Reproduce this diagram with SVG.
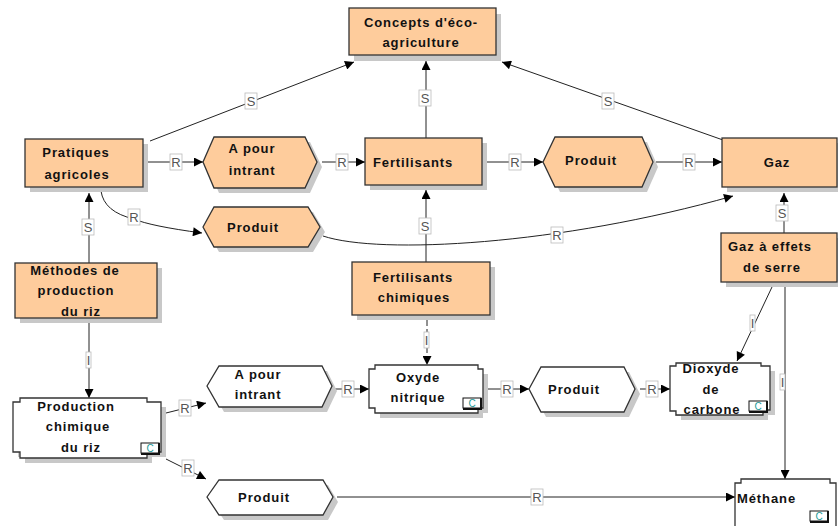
<svg xmlns="http://www.w3.org/2000/svg" width="838" height="526" viewBox="0 0 838 526">
  <style>
    .shadow { fill: #c8c8c8; stroke: none; }
    .box { fill: #fecc9c; stroke: #333; stroke-width: 1.3; }
    .wbox { fill: #ffffff; stroke: #333; stroke-width: 1.3; }
    .t { font-family: "Liberation Sans", Arial, sans-serif; font-weight: bold; font-size: 13px; letter-spacing: 0.9px; fill: #111; text-anchor: middle; }
    .tl { text-anchor: start; }
    .edge { fill: none; stroke: #222; stroke-width: 1; marker-end: url(#ah); }
    .dash { stroke-dasharray: 6 3; }
    .lb rect { fill: #fff; stroke: #bbb; stroke-width: 0.8; }
    .lb text { font-family: "Liberation Sans", Arial, sans-serif; font-size: 13px; fill: #555; text-anchor: middle; }
    .badge { fill: #fff; stroke: #111; stroke-width: 1; }
    .badgeedge { fill: none; stroke: #111; stroke-width: 2; }
    .bt { font-family: "Liberation Sans", Arial, sans-serif; font-size: 10px; fill: #1a9a9a; text-anchor: middle; }
  </style>
  <defs>
    <marker id="ah" viewBox="0 0 10 10" refX="10" refY="5" markerWidth="11" markerHeight="9" orient="auto" markerUnits="userSpaceOnUse">
      <path d="M0,0 L10,5 L0,10 Z" fill="#000"/>
    </marker>
  </defs>

  <!-- connectors -->
  <g id="connectors">
    <path class="edge" d="M150,141 L354,62"/>
    <path class="edge" d="M426,138 L426,61"/>
    <path class="edge" d="M723,140 L502,62"/>
    <path class="edge" d="M148,162 L203,162"/>
    <path class="edge" d="M322,162 L365,162"/>
    <path class="edge" d="M487,162 L543,162"/>
    <path class="edge" d="M656,162 L722,162"/>
    <path class="edge" d="M101,191 Q104,212 134,219 Q150,226 202,233"/>
    <path class="edge" d="M323,236 C380,255 560,245 733,196"/>
    <path class="edge" d="M89,263 L89,193"/>
    <path class="edge" d="M426,262 L426,190"/>
    <path class="edge" d="M784,233 L784,193"/>
    <path class="edge" d="M89,323 L89,398"/>
    <path class="edge dash" d="M427,320 L427,365"/>
    <path class="edge" d="M166,413 L206,403"/>
    <path class="edge" d="M332,389 L369,389"/>
    <path class="edge" d="M488,389 L529,389"/>
    <path class="edge" d="M640,389 L670,389"/>
    <path class="edge" d="M772,287 L737,361"/>
    <path class="edge" d="M785,287 L785,479"/>
    <path class="edge" d="M166,459 L206,479"/>
    <path class="edge" d="M337,497 L735,497"/>

    <!-- relation labels -->
    <g class="lb"><rect x="245" y="93" width="12" height="16"/><text x="251" y="106">S</text></g>
    <g class="lb"><rect x="419" y="90" width="12" height="16"/><text x="425" y="103">S</text></g>
    <g class="lb"><rect x="602" y="93" width="12" height="16"/><text x="608" y="106">S</text></g>
    <g class="lb"><rect x="170" y="154" width="12" height="16"/><text x="176" y="167">R</text></g>
    <g class="lb"><rect x="336" y="154" width="12" height="16"/><text x="342" y="167">R</text></g>
    <g class="lb"><rect x="509" y="154" width="12" height="16"/><text x="515" y="167">R</text></g>
    <g class="lb"><rect x="683" y="154" width="12" height="16"/><text x="689" y="167">R</text></g>
    <g class="lb"><rect x="128" y="209" width="12" height="16"/><text x="134" y="222">R</text></g>
    <g class="lb"><rect x="551" y="227" width="12" height="16"/><text x="557" y="240">R</text></g>
    <g class="lb"><rect x="82" y="219" width="12" height="16"/><text x="88" y="232">S</text></g>
    <g class="lb"><rect x="419" y="218" width="12" height="16"/><text x="425" y="231">S</text></g>
    <g class="lb"><rect x="776" y="205" width="12" height="16"/><text x="782" y="218">S</text></g>
    <g class="lb"><rect x="86" y="352" width="5" height="16"/><text x="88.5" y="365">I</text></g>
    <g class="lb"><rect x="424" y="332" width="5" height="16"/><text x="426.5" y="345">I</text></g>
    <g class="lb"><rect x="750" y="315" width="5" height="16"/><text x="752.5" y="328">I</text></g>
    <g class="lb"><rect x="780" y="374" width="5" height="16"/><text x="782.5" y="387">I</text></g>
    <g class="lb"><rect x="179" y="400" width="12" height="16"/><text x="185" y="413">R</text></g>
    <g class="lb"><rect x="342" y="381" width="12" height="16"/><text x="348" y="394">R</text></g>
    <g class="lb"><rect x="501" y="381" width="12" height="16"/><text x="507" y="394">R</text></g>
    <g class="lb"><rect x="646" y="381" width="12" height="16"/><text x="652" y="394">R</text></g>
    <g class="lb"><rect x="182" y="460" width="12" height="16"/><text x="188" y="473">R</text></g>
    <g class="lb"><rect x="531" y="489" width="12" height="16"/><text x="537" y="502">R</text></g>
  </g>

  <!-- orange nodes -->
  <g id="concepts">
    <rect class="shadow" x="354" y="14" width="147" height="47"/>
    <rect class="box" x="349" y="8" width="147" height="47"/>
    <text class="t" x="421" y="27">Concepts d'éco-</text>
    <text class="t" x="421" y="47">agriculture</text>
  </g>
  <g id="pratiques">
    <rect class="shadow" x="30" y="144" width="118" height="48"/>
    <rect class="box" x="25" y="139" width="118" height="48"/>
    <text class="t" x="76" y="157">Pratiques</text>
    <text class="t" x="77" y="179">agricoles</text>
  </g>
  <g id="apour1">
    <polygon class="shadow" points="208,167 219,142 310,142 322,167 310,193 219,193"/>
    <polygon class="box" points="203,162 214,137 305,137 317,162 305,188 214,188"/>
    <text class="t" x="252" y="153">A pour</text>
    <text class="t" x="252" y="175">intrant</text>
  </g>
  <g id="produit1">
    <polygon class="shadow" points="208,232 219,212 313,212 325,232 313,252 219,252"/>
    <polygon class="box" points="203,227 214,207 308,207 320,227 308,247 214,247"/>
    <text class="t" x="253" y="232">Produit</text>
  </g>
  <g id="fertilisants">
    <rect class="shadow" x="370" y="143" width="117" height="47"/>
    <rect class="box" x="365" y="138" width="117" height="47"/>
    <text class="t" x="413" y="167">Fertilisants</text>
  </g>
  <g id="produit2">
    <polygon class="shadow" points="548,167 560,142 647,142 658,167 647,192 560,192"/>
    <polygon class="box" points="543,162 555,137 642,137 653,162 642,187 555,187"/>
    <text class="t" x="591" y="165">Produit</text>
  </g>
  <g id="gaz">
    <rect class="shadow" x="727" y="143" width="116" height="49"/>
    <rect class="box" x="722" y="138" width="115" height="49"/>
    <text class="t" x="777" y="167">Gaz</text>
  </g>
  <g id="gazserre">
    <rect class="shadow" x="726" y="238" width="116" height="49"/>
    <rect class="box" x="721" y="233" width="116" height="49"/>
    <text class="t" x="770" y="251">Gaz à effets</text>
    <text class="t" x="772" y="272">de serre</text>
  </g>
  <g id="fertchim">
    <rect class="shadow" x="357" y="267" width="138" height="53"/>
    <rect class="box" x="352" y="262" width="138" height="53"/>
    <text class="t" x="413" y="282">Fertilisants</text>
    <text class="t" x="414" y="302">chimiques</text>
  </g>
  <g id="methodes">
    <rect class="shadow" x="20" y="268" width="142" height="55"/>
    <rect class="box" x="15" y="263" width="142" height="55"/>
    <text class="t" x="75" y="275">Méthodes de</text>
    <text class="t" x="76" y="295">production</text>
    <text class="t" x="81" y="316">du riz</text>
  </g>

  <!-- white nodes -->
  <g id="prodchim">
    <path class="shadow" d="M25,403 H152 V407 H166 V457 H152 V463 H25 V457 H18 V407 H25 Z"/>
    <path class="wbox" d="M20,398 H147 V402 H161 V452 H147 V458 H20 V452 H13 V402 H20 Z"/>
    <text class="t" x="76" y="411">Production</text>
    <text class="t" x="78" y="431">chimique</text>
    <text class="t" x="81" y="452">du riz</text>
    <rect class="badge" x="141" y="443" width="18" height="10"/>
    <path class="badgeedge" d="M159,443 V454 H141"/>
    <text class="bt" x="150" y="452">C</text>
  </g>
  <g id="apour2">
    <polygon class="shadow" points="212,391 224,371 327,371 337,391 327,412 224,412"/>
    <polygon class="wbox" points="207,386 219,366 322,366 332,386 322,407 219,407"/>
    <text class="t" x="258" y="379">A pour</text>
    <text class="t" x="258" y="399">intrant</text>
  </g>
  <g id="oxyde">
    <path class="shadow" d="M380,370 H483 V374 H488 V413 H483 V418 H380 V413 H374 V374 H380 Z"/>
    <path class="wbox" d="M375,365 H478 V369 H483 V408 H478 V413 H375 V408 H369 V369 H375 Z"/>
    <text class="t" x="418" y="382">Oxyde</text>
    <text class="t" x="418" y="402">nitrique</text>
    <rect class="badge" x="463" y="398" width="18" height="10"/>
    <path class="badgeedge" d="M481,398 V409 H463"/>
    <text class="bt" x="472" y="407">C</text>
  </g>
  <g id="produit3">
    <polygon class="shadow" points="534,394 546,372 629,372 640,394 629,417 546,417"/>
    <polygon class="wbox" points="529,389 541,367 624,367 635,389 624,412 541,412"/>
    <text class="t" x="574" y="394">Produit</text>
  </g>
  <g id="dioxyde">
    <path class="shadow" d="M676,368 H763 V371 H775 V415 H768 V420 H681 V416 H675 Z"/>
    <path class="wbox" d="M676,363 H761 V366 H770 V410 H763 V415 H676 V411 H670 V366 H676 Z"/>
    <text class="t" x="711" y="373">Dioxyde</text>
    <text class="t" x="711" y="394">de</text>
    <text class="t" x="712" y="414">carbone</text>
    <rect class="badge" x="749" y="401" width="18" height="10"/>
    <path class="badgeedge" d="M767,401 V412 H749"/>
    <text class="bt" x="758" y="410">C</text>
  </g>
  <g id="produit4">
    <polygon class="shadow" points="212,502 224,485 328,485 338,502 328,520 224,520"/>
    <polygon class="wbox" points="207,497 219,480 323,480 333,497 323,515 219,515"/>
    <text class="t" x="264" y="502">Produit</text>
  </g>
  <g id="methane">
    <path class="wbox" d="M741,479 H830 V483 H836 V530 H735 V483 H741 Z"/>
    <text class="t tl" x="737" y="503">Méthane</text>
    <rect class="badge" x="810" y="511" width="18" height="10"/>
    <path class="badgeedge" d="M828,511 V522 H810"/>
    <text class="bt" x="819" y="520">C</text>
  </g>
</svg>
